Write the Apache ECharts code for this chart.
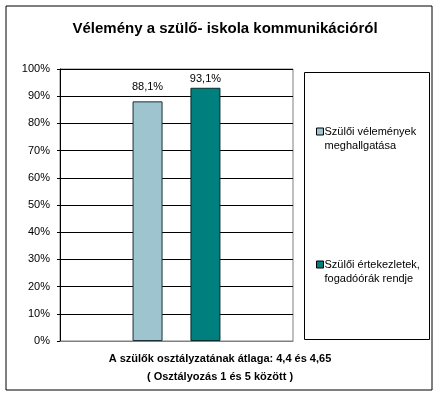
<!DOCTYPE html>
<html><head><meta charset="utf-8">
<script src="https://cdn.jsdelivr.net/npm/echarts@6/dist/echarts.min.js"></script>
<style>html,body{margin:0;padding:0;background:#fff}#c{width:440px;height:393px}</style>
</head><body><div id="c"></div>
<script>
const categories = [''];
const seriesNames = ['Szülői vélemények meghallgatása', 'Szülői értekezletek, fogadóórák rendje'];
const legendLabels = ['Szülői vélemények\nmeghallgatása', 'Szülői értekezletek,\nfogadóórák rendje'];
const values1 = [88.1];
const values2 = [93.1];
const titleText = 'Vélemény a szülő- iskola kommunikációról';
const noteText = 'A szülők osztályzatának átlaga: 4,4 és 4,65\n( Osztályozás 1 és 5 között )';

const chart = echarts.init(document.getElementById('c'));
const F = 'Liberation Sans, Arial, sans-serif';
const fmt = p => p.value.toFixed(1).replace('.', ',') + '%';
chart.setOption({
  animation: false,
  title: {
    text: titleText, left: 220, textAlign: 'center', top: 16,
    textStyle: {fontFamily: F, fontSize: 15, fontWeight: 'bold', color: '#000'}
  },
  graphic: [
    {type: 'rect', shape: {x: 6, y: 6, width: 426, height: 384}, style: {fill: 'none', stroke: '#000', lineWidth: 1}, z: -1},
    {type: 'rect', shape: {x: 304.5, y: 72.5, width: 125, height: 267}, style: {fill: 'none', stroke: '#000', lineWidth: 1}, z: -1},
    {type: 'text', left: 'center', top: 350, style: {text: noteText, font: 'bold 11px ' + F, fill: '#000', textAlign: 'center', lineHeight: 18}}
  ],
  legend: {
    orient: 'vertical', left: 311, top: 120, itemGap: 105,
    itemWidth: 7, itemHeight: 22, icon: 'path://M0,0H7V7H0Z M0,22L0,22',
    data: seriesNames,
    formatter: function (n) { return legendLabels[seriesNames.indexOf(n)]; },
    textStyle: {fontFamily: F, fontSize: 11, color: '#000', lineHeight: 14, padding: [0, 0, 0, -4]},
    itemStyle: {borderColor: '#000', borderWidth: 1}
  },
  grid: {left: 60, right: 147, top: 69, bottom: 52, show: true, borderColor: '#808080', borderWidth: 1},
  xAxis: {
    type: 'category', data: categories,
    axisLine: {lineStyle: {color: '#808080'}}, axisTick: {show: false}, axisLabel: {show: false}
  },
  yAxis: {
    type: 'value', min: 0, max: 100, interval: 10,
    axisLabel: {formatter: '{value}%', fontFamily: F, fontSize: 11, color: '#000', margin: 10},
    axisLine: {show: true, lineStyle: {color: '#000'}},
    axisTick: {show: true, length: 3, lineStyle: {color: '#000'}},
    splitLine: {lineStyle: {color: '#000'}}
  },
  series: [
    {name: seriesNames[0], type: 'bar', data: values1, barWidth: 30, barGap: '93%',
     itemStyle: {color: '#9EC4D0', borderColor: '#1f2f33', borderWidth: 1},
     label: {show: true, position: 'top', distance: 9, formatter: fmt, fontFamily: F, fontSize: 11, color: '#000'}},
    {name: seriesNames[1], type: 'bar', data: values2, barWidth: 30,
     itemStyle: {color: '#007F7F', borderColor: '#002b2b', borderWidth: 1},
     label: {show: true, position: 'top', distance: 3, formatter: fmt, fontFamily: F, fontSize: 11, color: '#000'}}
  ]
});
</script></body></html>
